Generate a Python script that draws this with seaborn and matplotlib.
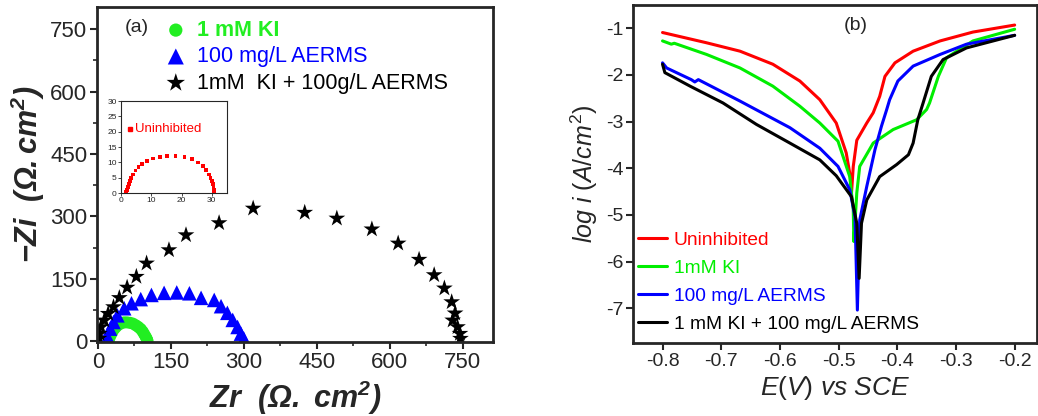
import numpy as np
import pandas as pd
import matplotlib
matplotlib.use("Agg")
import matplotlib.pyplot as plt
import seaborn as sns
from matplotlib.ticker import MultipleLocator

# ---------------- data: panel (a) Nyquist ----------------
ki_zr = [22, 24, 27, 30, 34, 38, 43, 48, 54, 60, 66, 72, 78, 83, 88, 92, 95, 98, 100, 101, 102]
ki_zi = [0, 8, 16, 23, 30, 35, 40, 43, 45, 45, 44, 42, 38, 34, 29, 23, 17, 11, 6, 3, 0]

aerms_zr = [20, 25, 32, 40, 54, 69, 88, 110, 136, 162, 188, 212, 239, 253, 266, 277, 287, 294, 300]
aerms_zi = [10, 30, 46, 62, 79, 91, 101, 111, 116, 117, 115, 104, 99, 84, 68, 51, 34, 18, 6]

mix_zr = [2, 3, 6, 13, 21, 32, 44, 60, 79, 100, 146, 181, 249, 319, 425, 491, 563, 617, 660,
          691, 712, 727, 734, 729, 739, 744, 745]
mix_zi = [6, 18, 34, 50, 66, 82, 104, 129, 155, 187, 219, 255, 284, 319, 309, 295, 269, 235,
          196, 159, 127, 94, 67, 50, 34, 18, 6]

blank_zr = [1.5, 1.7, 2.0, 2.3, 2.6, 3.0, 3.4, 4.0, 4.8, 5.8, 7.0, 8.5, 10.5, 12.8, 15.3, 18.0,
            21.0, 23.5, 25.5, 27.0, 28.2, 29.0, 29.6, 30.0, 30.3, 30.6, 30.7, 30.8, 30.8]
blank_zi = [0, 0.5, 1, 2, 3, 4, 5, 6, 7.3, 8.5, 9.5, 10.5, 11.3, 11.8, 12.1, 12.0,
            11.8, 11.0, 10.0, 8.8, 7.5, 6.0, 5.0, 4.0, 3.0, 2.0, 1.0, 0.3, 0]

# ---------------- data: panel (b) Tafel ----------------
unin_E = [-0.8, -0.725, -0.668, -0.612, -0.566, -0.532, -0.504, -0.487, -0.480, -0.478,
          -0.475, -0.469, -0.452, -0.441, -0.430, -0.421, -0.404, -0.373, -0.327, -0.271, -0.2]
unin_logi = [-1.09, -1.31, -1.49, -1.77, -2.13, -2.53, -3.03, -3.67, -4.18, -4.53,
             -3.96, -3.40, -3.03, -2.81, -2.46, -2.03, -1.74, -1.49, -1.27, -1.08, -0.93]

ki_E = [-0.8, -0.785, -0.780, -0.725, -0.668, -0.612, -0.566, -0.532, -0.501, -0.481, -0.475,
        -0.474, -0.469, -0.464, -0.441, -0.407, -0.367, -0.350, -0.345, -0.330, -0.316,
        -0.271, -0.2]
ki_logi = [-1.27, -1.34, -1.32, -1.56, -1.85, -2.24, -2.67, -3.03, -3.42, -4.18, -4.89,
           -5.57, -4.53, -3.96, -3.46, -3.17, -2.96, -2.74, -2.60, -2.03, -1.63,
           -1.27, -1.02]

aer_E = [-0.8, -0.793, -0.751, -0.745, -0.739, -0.668, -0.583, -0.532, -0.501, -0.481, -0.472,
         -0.468, -0.464, -0.452, -0.438, -0.427, -0.418, -0.413, -0.399, -0.373, -0.327,
         -0.282, -0.2]
aer_logi = [-1.74, -1.85, -2.10, -2.15, -2.10, -2.56, -3.13, -3.57, -3.96, -4.46, -5.04,
            -7.04, -5.11, -4.39, -3.60, -3.10, -2.74, -2.53, -2.13, -1.81, -1.56,
            -1.34, -1.15]

mix_E = [-0.8, -0.796, -0.753, -0.697, -0.640, -0.583, -0.532, -0.504, -0.478, -0.469, -0.465,
         -0.461, -0.452, -0.430, -0.401, -0.381, -0.373, -0.365, -0.356, -0.342, -0.322,
         -0.282, -0.2]
mix_logi = [-1.77, -1.95, -2.24, -2.60, -3.06, -3.46, -3.82, -4.16, -4.61, -5.18, -6.36,
            -5.18, -4.68, -4.18, -3.92, -3.71, -3.46, -2.96, -2.60, -2.03, -1.67,
            -1.42, -1.15]

labels_a = ["1 mM KI", "100 mg/L AERMS", "1mM  KI + 100g/L AERMS"]
labels_b = ["Uninhibited", "1mM KI", "100 mg/L AERMS", "1 mM KI + 100 mg/L AERMS"]
colors_b = ["#ff0000", "#00ee00", "#0000ff", "#000000"]

# ---------------- style ----------------
sns.set_theme(style="ticks")
plt.rcParams['font.family'] = ['Liberation Sans', 'DejaVu Sans']
plt.rcParams['mathtext.fontset'] = 'custom'
plt.rcParams['mathtext.rm'] = 'Liberation Sans'
plt.rcParams['mathtext.it'] = 'Liberation Sans:italic'
plt.rcParams['mathtext.bf'] = 'Liberation Sans:italic:bold'

fig = plt.figure(figsize=(10.38, 4.16), dpi=100)
axA = fig.add_axes([0.0934, 0.178, 0.3816, 0.805])
axB = fig.add_axes([0.610, 0.175, 0.389, 0.813])

# ---------------- panel (a) ----------------
dfk = pd.DataFrame({"Zr": ki_zr, "Zi": ki_zi})
dfa = pd.DataFrame({"Zr": aerms_zr, "Zi": aerms_zi})
dfm = pd.DataFrame({"Zr": mix_zr, "Zi": mix_zi})
sns.scatterplot(data=dfk, x="Zr", y="Zi", ax=axA, marker="o", s=75, color="#22ee22",
                edgecolor="none", label=labels_a[0])
sns.scatterplot(data=dfa, x="Zr", y="Zi", ax=axA, marker="^", s=110, color="#0000ff",
                edgecolor="none", label=labels_a[1])
sns.scatterplot(data=dfm, x="Zr", y="Zi", ax=axA, marker="*", s=160, color="black",
                edgecolor="none", label=labels_a[2])
axA.set_xlim(-2, 812)
axA.set_ylim(-2, 803)
axA.xaxis.set_major_locator(MultipleLocator(150))
axA.yaxis.set_major_locator(MultipleLocator(150))
axA.xaxis.set_minor_locator(MultipleLocator(75))
axA.yaxis.set_minor_locator(MultipleLocator(75))
axA.tick_params(axis='both', which='major', labelsize=16, length=5, width=1.5, direction='out',
                pad=2)
axA.tick_params(axis='both', which='minor', length=3, width=1.2, direction='out')
for sp in axA.spines.values():
    sp.set_linewidth(2)
axA.set_xlabel(r"$\mathbf{Zr}\ \ \mathbf{(\Omega.\ cm^2)}$", fontsize=22, labelpad=4)
axA.set_ylabel(r"$\mathbf{-Zi}\ \ \mathbf{(\Omega.cm^2)}$", fontsize=22, labelpad=2)
leg = axA.legend(loc="upper left", bbox_to_anchor=(0.123, 1.02), frameon=False, fontsize=15.5,
                 handlelength=1.0, handletextpad=0.5, labelspacing=0.25, markerscale=1.1)
for t, c in zip(leg.get_texts(), ["#22ee22", "#0000ff", "black"]):
    t.set_color(c)
leg.get_texts()[0].set_fontweight("bold")
axA.text(0.07, 0.965, "(a)", transform=axA.transAxes, fontsize=14, va="top")

# inset
axI = fig.add_axes([0.1166, 0.536, 0.102, 0.221])
dfb = pd.DataFrame({"Zr": blank_zr, "Zi": blank_zi})
sns.scatterplot(data=dfb, x="Zr", y="Zi", ax=axI, marker="s", s=7, color="red",
                edgecolor="none", legend=False)
axI.set_xlim(0, 35)
axI.set_ylim(0, 30)
axI.xaxis.set_major_locator(MultipleLocator(10))
axI.yaxis.set_major_locator(MultipleLocator(5))
axI.tick_params(labelsize=6, length=2, width=0.6, pad=1)
axI.set_xlabel("")
axI.set_ylabel("")
for sp in axI.spines.values():
    sp.set_linewidth(0.8)
axI.plot([3], [21], marker="s", ms=2.5, color="red", ls="none")
axI.text(4.6, 21, "Uninhibited", color="red", fontsize=9.5, va="center")

# ---------------- panel (b) ----------------
series_b = [(unin_E, unin_logi), (ki_E, ki_logi), (aer_E, aer_logi), (mix_E, mix_logi)]
for (E, li), lab, col in zip(series_b, labels_b, colors_b):
    d = pd.DataFrame({"E": E, "logi": li})
    sns.lineplot(data=d, x="E", y="logi", ax=axB, sort=False, color=col, lw=2.2, label=lab,
                 estimator=None)
axB.set_xlim(-0.85, -0.162)
axB.set_ylim(-7.75, -0.5)
axB.set_xticks([-0.8, -0.7, -0.6, -0.5, -0.4, -0.3, -0.2])
axB.set_xticklabels(["-0.8", "-0.7", "-0.6", "-0.5", "-0.4", "-0.3", "-0.2"])
axB.set_yticks([-1, -2, -3, -4, -5, -6, -7])
axB.set_yticklabels(["-1", "-2", "-3", "-4", "-5", "-6", "-7"])
axB.tick_params(axis='both', labelsize=14, length=5, width=1.5, direction='out', pad=2)
for sp in axB.spines.values():
    sp.set_linewidth(2)
axB.set_xlabel(r"$E(V)\ vs\ SCE$", fontsize=19, labelpad=3)
axB.set_ylabel(r"$log\ i\ (A/cm^2)$", fontsize=18, labelpad=4)
legB = axB.legend(loc="lower left", bbox_to_anchor=(-0.03, -0.02), frameon=False, fontsize=13.8,
                  handlelength=1.5, handletextpad=0.35, labelspacing=0.55)
for t, c in zip(legB.get_texts(), colors_b):
    t.set_color(c)
axB.text(0.55, 0.965, "(b)", transform=axB.transAxes, fontsize=14, va="top", ha="center")

fig.savefig("out.png", dpi=100)
